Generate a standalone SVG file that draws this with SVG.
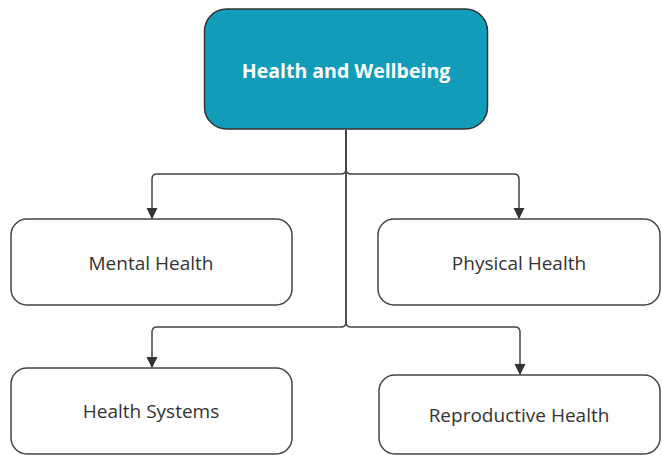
<svg xmlns="http://www.w3.org/2000/svg" width="662" height="455" viewBox="0 0 662 455">
<defs>
<marker id="arr" viewBox="0 0 10 10" refX="9" refY="5" markerWidth="11" markerHeight="12" markerUnits="userSpaceOnUse" orient="auto">
<path d="M0,0 L10,5 L0,10 z" fill="#333"/>
</marker>
<style>
.box{fill:#fff;stroke:#444;stroke-width:1.5}
.lbl{font-family:"Open Sans","Noto Sans",sans-serif;font-size:19px;fill:#333;text-anchor:middle;dominant-baseline:central}
.edge{fill:none;stroke:#444;stroke-width:1.5;marker-end:url(#arr)}
</style>
</defs>
<rect width="662" height="455" fill="#fff"/>
<g id="connectors">
<path class="edge" d="M346,130 V169 Q346,174 341,174 H157 Q152,174 152,179 V218"/>
<path class="edge" d="M346,130 V169 Q346,174 351,174 H514 Q519,174 519,179 V218"/>
<path class="edge" d="M346,130 V322 Q346,327 341,327 H157 Q152,327 152,332 V367"/>
<path class="edge" d="M346,130 V322 Q346,327 351,327 H515 Q520,327 520,332 V374"/>
</g>
<g id="root">
<rect x="204.5" y="9" width="283" height="120" rx="22" fill="#119db9" stroke="#333" stroke-width="1.5"/>
<text x="346" y="70" class="lbl" style="fill:#fff;font-weight:bold;font-size:19.5px">Health and Wellbeing</text>
</g>
<g id="mental">
<rect class="box" x="11" y="219" width="281" height="86" rx="16"/>
<text class="lbl" x="151" y="263">Mental Health</text>
</g>
<g id="physical">
<rect class="box" x="378" y="219" width="282" height="86" rx="16"/>
<text class="lbl" x="519" y="263">Physical Health</text>
</g>
<g id="systems">
<rect class="box" x="11" y="368" width="281" height="86" rx="16"/>
<text class="lbl" x="151" y="411">Health Systems</text>
</g>
<g id="reproductive">
<rect class="box" x="379" y="375" width="281" height="79" rx="16"/>
<text class="lbl" x="519" y="415">Reproductive Health</text>
</g>
</svg>
